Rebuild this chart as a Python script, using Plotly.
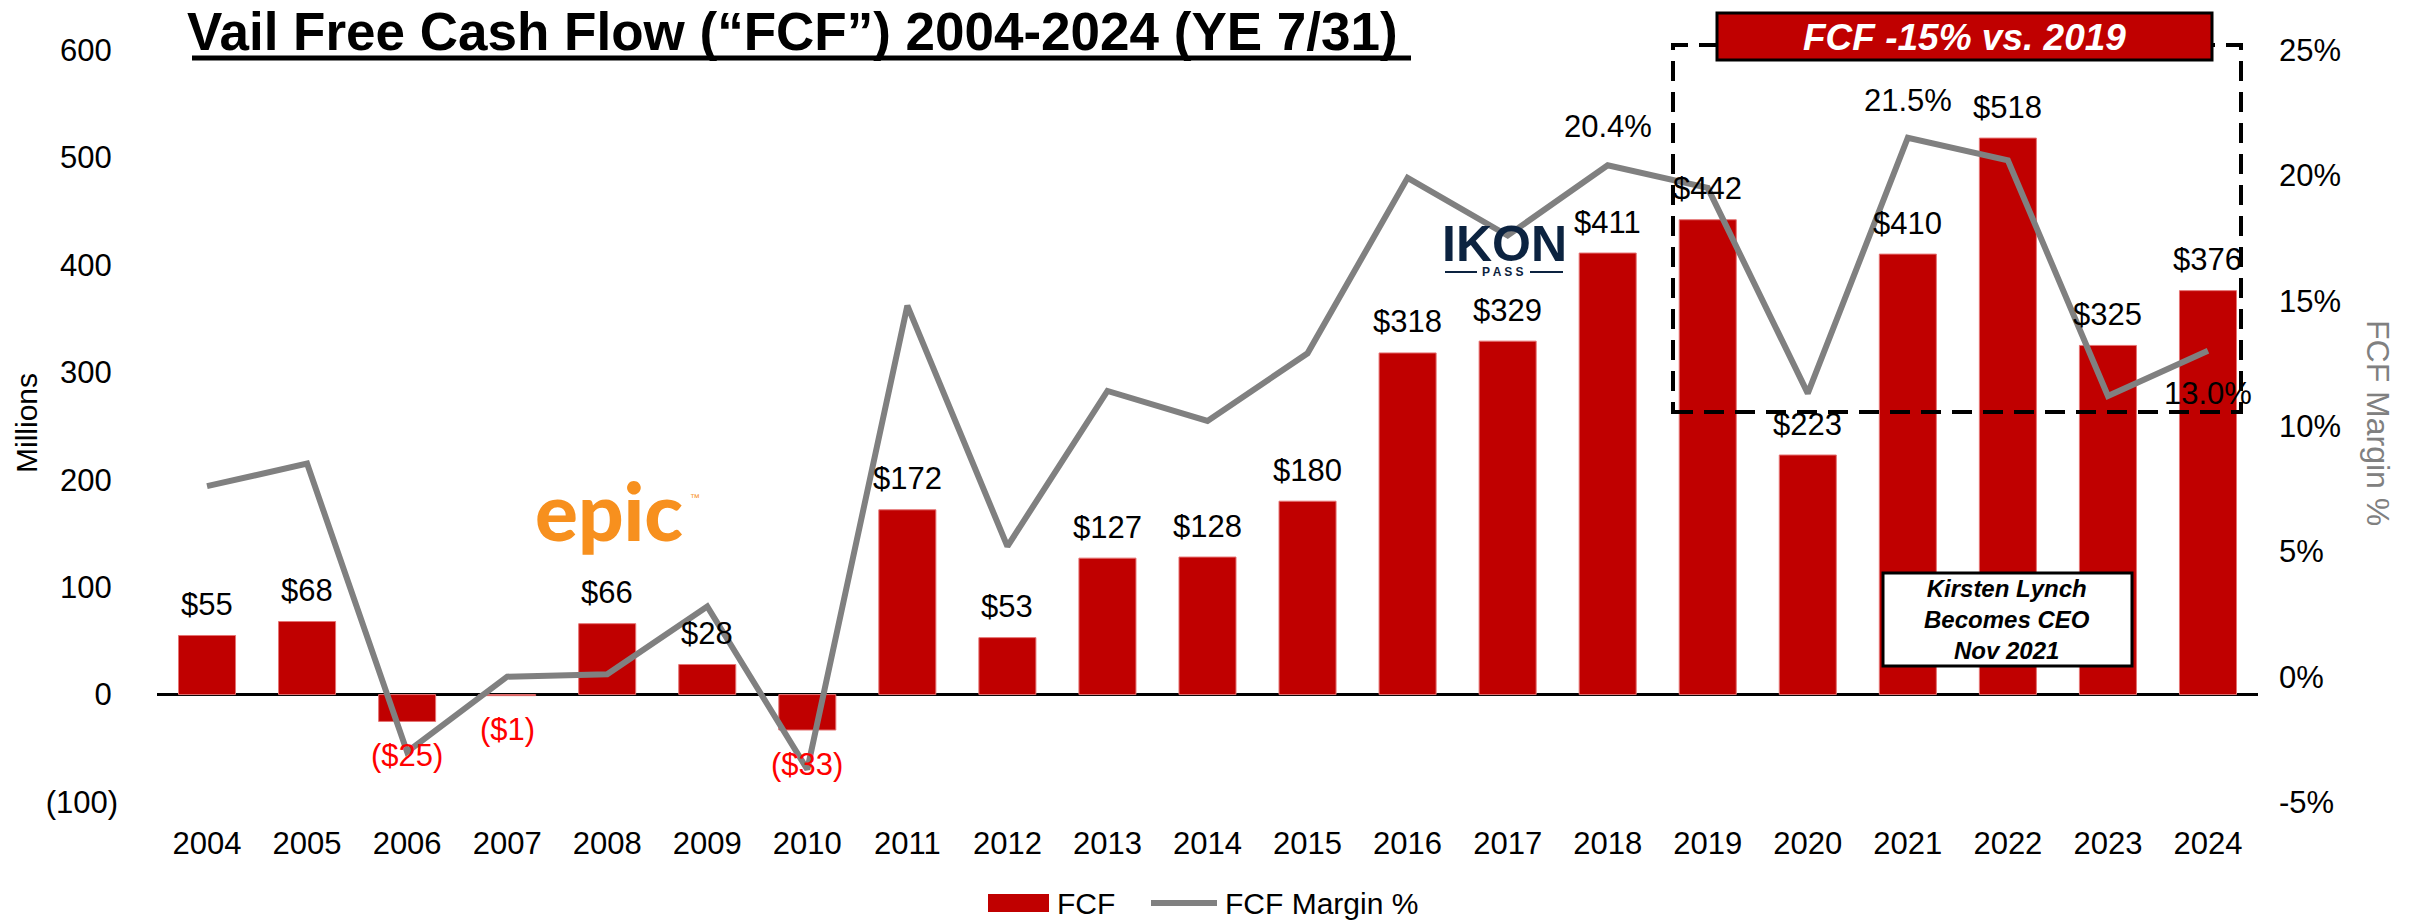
import plotly.graph_objects as go

# ---------------- data ----------------
years = list(range(2004, 2025))
fcf = [55, 68, -25, -1, 66, 28, -33, 172, 53, 127, 128, 180, 318, 329, 411, 442, 223, 410, 518, 325, 376]
margin_pct = [7.6, 8.5, -3.0, 0.0, 0.1, 2.8, -3.7, 14.8, 5.2, 11.4, 10.2, 12.9, 19.9, 17.6, 20.4, 19.5, 11.3, 21.5, 20.6, 11.2, 13.0]
margin_label_years = [2018, 2021, 2024]
left_tickvals = [-100, 0, 100, 200, 300, 400, 500, 600]
left_ticktext = ["(100)", "0\u2009", "100\u2009", "200\u2009", "300\u2009", "400\u2009", "500\u2009", "600\u2009"]
right_tickvals = [-5, 0, 5, 10, 15, 20, 25]
right_ticktext = ["-5%", "0%", "5%", "10%", "15%", "20%", "25%"]

# ---------------- geometry (page pixels -> paper) ----------------
OFF = 8                      # default page body margin
PAGE_W, PAGE_H = 2413, 921
W, H = PAGE_W - OFF, PAGE_H - OFF
PLOT_X0, PLOT_X1 = 157, 2258  # plot area in page pixels
PLOT_Y0, PLOT_Y1 = 50, 802
L = PLOT_X0 - OFF
R = W - (PLOT_X1 - OFF)
T = PLOT_Y0 - OFF
B = H - (PLOT_Y1 - OFF)
PW, PH = PLOT_X1 - PLOT_X0, PLOT_Y1 - PLOT_Y0


def px(xp):
    return (xp - PLOT_X0) / PW


def py(yp):
    return (PLOT_Y1 - yp) / PH


FONT = "Liberation Sans, Arial, sans-serif"
RED = "#C00000"
GRAY = "#808080"
NAVY = "#0C2340"

fig = go.Figure()
fig.add_trace(go.Bar(
    x=years, y=fcf, name="FCF", marker=dict(color=RED, line=dict(color="#E57373", width=1)),
    width=0.57, yaxis="y", showlegend=False))
fig.add_trace(go.Scatter(
    x=years, y=margin_pct, name="FCF Margin %", mode="lines",
    line=dict(color=GRAY, width=6), yaxis="y2", showlegend=False))

annotations = []


def note(xp, yp, text, size, color="black", xa="center", ya="middle", family=FONT, angle=0, weight=None):
    f = dict(family=family, size=size, color=color)
    if weight is not None:
        f["weight"] = weight
    annotations.append(dict(
        x=px(xp), y=py(yp), xref="paper", yref="paper", text=text, showarrow=False,
        xanchor=xa, yanchor=ya, textangle=angle, font=f))


# bar value labels
for yr, v in zip(years, fcf):
    txt = f"${v}" if v >= 0 else f"(${abs(v)})"
    annotations.append(dict(
        x=yr, y=v, xref="x", yref="y", text=txt, showarrow=False,
        yshift=31 if v >= 0 else -34, xanchor="center", yanchor="middle",
        font=dict(family=FONT, size=31, color="black" if v >= 0 else "#FF0000")))
# margin labels
label_shift = {2018: 39, 2021: 37, 2024: -43}
for yr in margin_label_years:
    m = margin_pct[years.index(yr)]
    annotations.append(dict(
        x=yr, y=m, xref="x", yref="y2", text=f"{m:.1f}%", showarrow=False,
        yshift=label_shift[yr], xanchor="center", yanchor="middle",
        font=dict(family=FONT, size=31, color="black")))

# title
note(185, 32, "<b>Vail Free Cash Flow (“FCF”) 2004-2024 (YE 7/31)</b>", 53, xa="left")
# axis titles
note(27, 423, "Millions", 30, angle=-90)
note(2378, 423, "FCF Margin %", 32, color=GRAY, angle=90)
# header box text
note(1964, 37, "<b><i>FCF -15% vs. 2019</i></b>", 37, color="white")
# CEO box text
note(2007, 619, "<b><i>Kirsten Lynch<br>Becomes CEO<br>Nov 2021</i></b>", 24)
# epic logo (text)
note(609, 510, "epic", 80, color="#F7901E", family="Lato, Liberation Sans, sans-serif", weight=900)
note(695, 497, "™", 10, color="#F7901E")
# IKON logo (text)
note(1504, 244, "<b>IKON</b>", 50, color=NAVY)
note(1503, 272, "<b>P A S S</b>", 12, color=NAVY)
# custom legend text
note(1055, 903, "FCF", 30, xa="left")
note(1223, 903, "FCF Margin %", 30, xa="left")

shapes = [
    # title underline
    dict(type="line", xref="paper", yref="paper", x0=px(192), x1=px(1411), y0=py(58), y1=py(58),
         line=dict(color="black", width=5)),
    # dashed highlight box
    dict(type="rect", xref="paper", yref="paper", x0=px(1673), x1=px(2241), y0=py(412), y1=py(45),
         line=dict(color="black", width=4, dash="20px,11px"), layer="above"),
    # header red box
    dict(type="rect", xref="paper", yref="paper", x0=px(1717), x1=px(2212), y0=py(60), y1=py(13),
         fillcolor=RED, line=dict(color="black", width=3), layer="above"),
    # CEO box
    dict(type="rect", xref="paper", yref="paper", x0=px(1883), x1=px(2132), y0=py(666), y1=py(573),
         fillcolor="white", line=dict(color="black", width=3), layer="above"),
    # IKON pass lines
    dict(type="line", xref="paper", yref="paper", x0=px(1445), x1=px(1477), y0=py(272), y1=py(272),
         line=dict(color=NAVY, width=2)),
    dict(type="line", xref="paper", yref="paper", x0=px(1530), x1=px(1563), y0=py(272), y1=py(272),
         line=dict(color=NAVY, width=2)),
    # legend swatches
    dict(type="rect", xref="paper", yref="paper", x0=px(988), x1=px(1049), y0=py(912), y1=py(894),
         fillcolor=RED, line=dict(width=0)),
    dict(type="line", xref="paper", yref="paper", x0=px(1151), x1=px(1217), y0=py(903), y1=py(903),
         line=dict(color=GRAY, width=6)),
]

fig.update_layout(
    width=W, height=H,
    margin=dict(l=L, r=R, t=T, b=B, pad=0, autoexpand=False),
    paper_bgcolor="white", plot_bgcolor="white",
    font=dict(family=FONT, size=31, color="black"),
    showlegend=False,
    xaxis=dict(range=[2003.5, 2024.5], tickvals=years, ticktext=[str(y) for y in years],
               showgrid=False, zeroline=False, showline=False, ticks="", automargin=False,
               ticklabelstandoff=20, tickfont=dict(family=FONT, size=31, color="black")),
    yaxis=dict(range=[-100, 600], tickvals=left_tickvals, ticktext=left_ticktext,
               showgrid=False, zeroline=True, zerolinecolor="black", zerolinewidth=3,
               showline=False, ticks="", ticklabelstandoff=38, automargin=False,
               tickfont=dict(family=FONT, size=31, color="black")),
    yaxis2=dict(range=[-5, 25], tickvals=right_tickvals, ticktext=right_ticktext,
                overlaying="y", side="right", showgrid=False, zeroline=False, showline=False,
                ticks="", ticklabelstandoff=20, automargin=False,
                tickfont=dict(family=FONT, size=31, color="black")),
    annotations=annotations,
    shapes=shapes,
)

fig.write_html("out.html")
